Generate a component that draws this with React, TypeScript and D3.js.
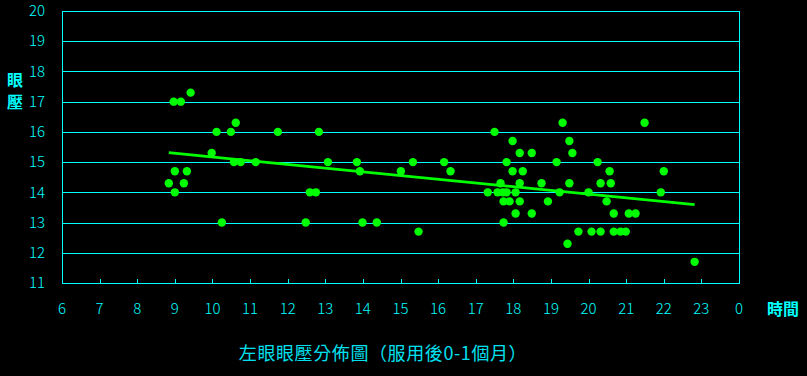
import React from "react";
import * as d3 from "d3";

const hours = [8.84, 8.97, 9.0, 9.0, 9.16, 9.24, 9.32, 9.42, 9.98, 10.11, 10.25, 10.49, 10.57, 10.62, 10.75, 11.15, 11.74, 12.48, 12.59, 12.75, 12.83, 13.07, 13.84, 13.92, 13.99, 14.37, 15.01, 15.33, 15.48, 16.16, 16.33, 17.32, 17.5, 17.58, 17.66, 17.72, 17.74, 17.74, 17.82, 17.82, 17.9, 17.98, 17.98, 18.06, 18.06, 18.17, 18.17, 18.17, 18.25, 18.49, 18.49, 18.75, 18.92, 19.15, 19.23, 19.31, 19.44, 19.49, 19.49, 19.57, 19.73, 20.0, 20.08, 20.24, 20.32, 20.32, 20.48, 20.56, 20.59, 20.67, 20.67, 20.85, 20.99, 21.07, 21.25, 21.49, 21.92, 22.0, 22.82];
const pressure = [14.3, 17, 14.7, 14.0, 17, 14.3, 14.7, 17.3, 15.3, 16, 13, 16, 15, 16.3, 15, 15, 16, 13, 14, 14, 16, 15, 15, 14.7, 13, 13, 14.7, 15, 12.7, 15, 14.7, 14, 16, 14, 14.3, 14, 13.7, 13.0, 15, 14, 13.7, 15.7, 14.7, 14, 13.3, 15.3, 14.3, 13.7, 14.7, 15.3, 13.3, 14.3, 13.7, 15, 14, 16.3, 12.3, 15.7, 14.3, 15.3, 12.7, 14, 12.7, 15, 14.3, 12.7, 13.7, 14.7, 14.3, 13.3, 12.7, 12.7, 12.7, 13.3, 13.3, 16.3, 14, 14.7, 11.7];

const xTickValues = [6, 7, 8, 9, 10, 11, 12, 13, 14, 15, 16, 17, 18, 19, 20, 21, 22, 23, 24];
const xTickLabels = ["6", "7", "8", "9", "10", "11", "12", "13", "14", "15", "16", "17", "18", "19", "20", "21", "22", "23", "0"];
const yTickValues = [11, 12, 13, 14, 15, 16, 17, 18, 19, 20];

const yLabel = ["眼", "壓"];
const xLabel = "時間";
const title = "左眼眼壓分佈圖（服用後0-1個月）";

const W = 807, H = 376;
const L = 62, R = 739, T = 11, B = 283;
const CYAN = "#00FFFF";
const GREEN = "#00FF00";
const FONT = "'Noto Sans CJK TC', 'DejaVu Sans', sans-serif";

export default function App() {
  const x = d3.scaleLinear().domain([6, 24]).range([L, R]);
  const y = d3.scaleLinear().domain([11, 20]).range([B, T]);

  const n = hours.length;
  const mx = d3.mean(hours)!;
  const my = d3.mean(pressure)!;
  let sxy = 0, sxx = 0;
  for (let i = 0; i < n; i++) {
    sxy += (hours[i] - mx) * (pressure[i] - my);
    sxx += (hours[i] - mx) ** 2;
  }
  const slope = sxy / sxx;
  const icpt = my - slope * mx;
  const [x0, x1] = d3.extent(hours) as [number, number];
  const trend: [number, number][] = [[x0, icpt + slope * x0], [x1, icpt + slope * x1]];
  const line = d3.line<[number, number]>().x(d => x(d[0])).y(d => y(d[1]));

  return (
    <div style={{ position: "fixed", left: 0, top: 0, width: W, height: H, background: "#000" }}>
      <svg width={W} height={H} style={{ display: "block" }} fontFamily={FONT}>
        <rect x={0} y={0} width={W} height={H} fill="#000" />
        {yTickValues.map(v => (
          <line key={"g" + v} x1={L} x2={R} y1={Math.round(y(v)) + 0.5} y2={Math.round(y(v)) + 0.5} stroke={CYAN} strokeWidth={1} shapeRendering="crispEdges" />
        ))}
        <rect x={L + 0.5} y={T + 0.5} width={R - L} height={B - T} fill="none" stroke={CYAN} strokeWidth={1} shapeRendering="crispEdges" />
        {xTickValues.slice(1, -1).map(v => (
          <line key={"t" + v} x1={Math.round(x(v)) + 0.5} x2={Math.round(x(v)) + 0.5} y1={B} y2={B - 4} stroke={CYAN} strokeWidth={1} shapeRendering="crispEdges" />
        ))}
        {yTickValues.map(v => (
          <text key={"yl" + v} x={45} y={y(v)} dy="0.35em" textAnchor="end" fill={CYAN} fontSize={15} fontWeight={300}>{v}</text>
        ))}
        {xTickValues.map((v, i) => (
          <text key={"xl" + v} x={x(v)} y={309} dy="0.35em" textAnchor="middle" fill={CYAN} fontSize={15} fontWeight={300}>{xTickLabels[i]}</text>
        ))}
        {yLabel.map((c, i) => (
          <text key={"ya" + i} x={15} y={80 + i * 22} dy="0.35em" textAnchor="middle" fill={CYAN} fontSize={16} fontWeight="bold">{c}</text>
        ))}
        <text x={783} y={309} dy="0.35em" textAnchor="middle" fill={CYAN} fontSize={16} fontWeight="bold">{xLabel}</text>
        <text x={383} y={354} dy="0.35em" textAnchor="middle" fill="#00E0F0" fontSize={18} letterSpacing={0.6}>{title}</text>
        {hours.map((h, i) => (
          <circle key={"p" + i} cx={x(h)} cy={y(pressure[i])} r={4.2} fill={GREEN} />
        ))}
        <path d={line(trend)!} stroke={GREEN} strokeWidth={2.8} fill="none" />
      </svg>
    </div>
  );
}
